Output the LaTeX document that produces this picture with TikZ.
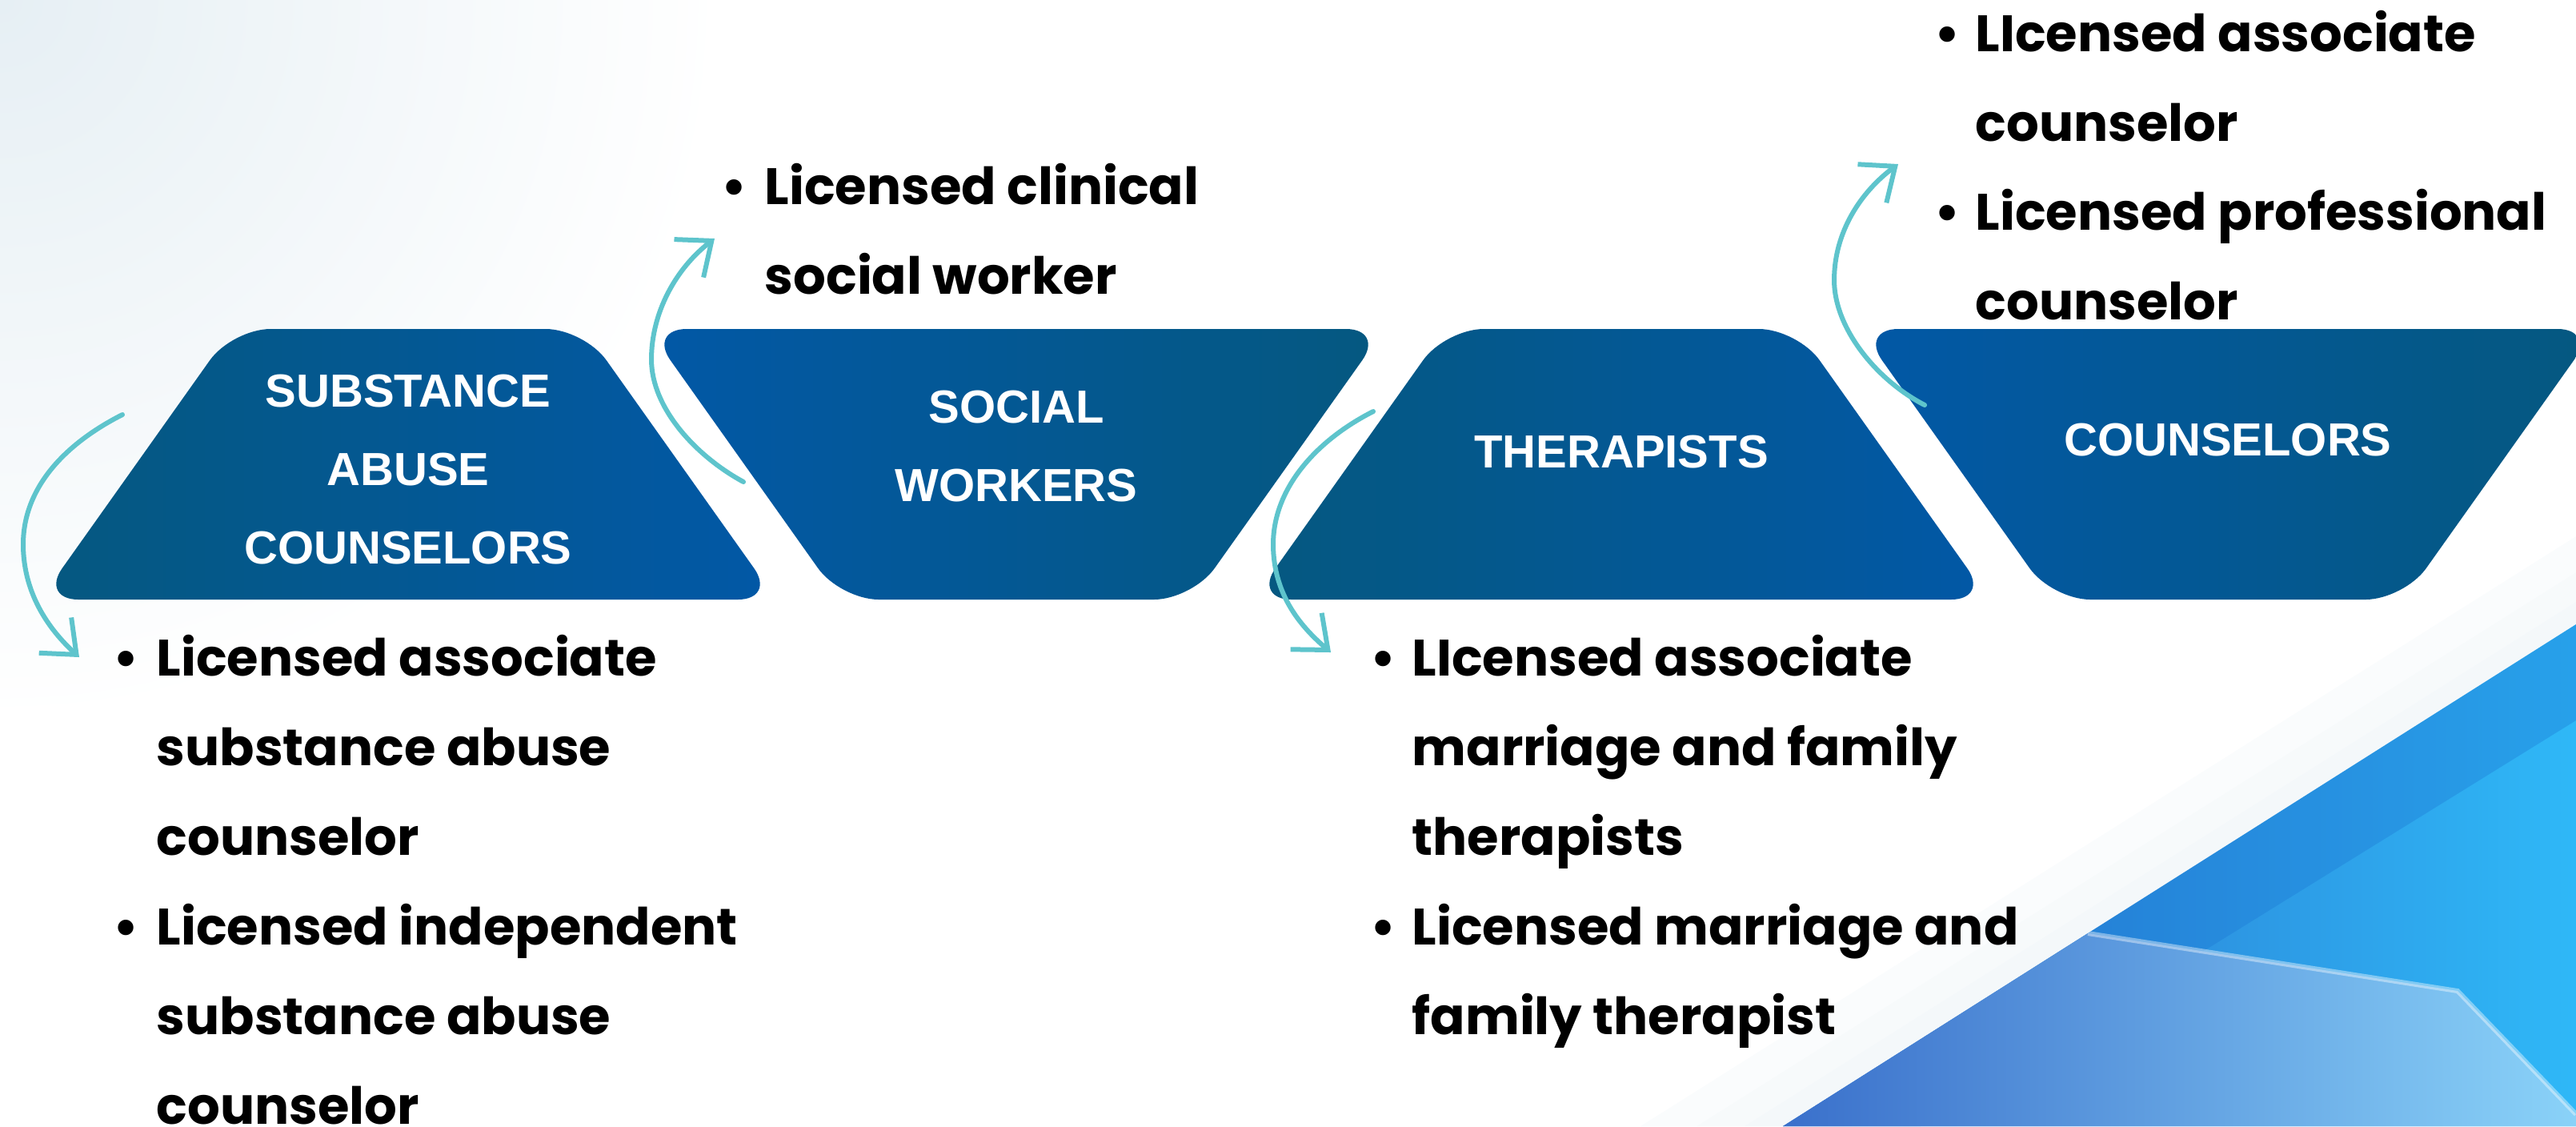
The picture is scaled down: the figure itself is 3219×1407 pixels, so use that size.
\documentclass[tikz,border=0pt]{standalone}
\usepackage{fontspec}
\newfontfamily\pop{Poppins}
\newfontfamily\arl{Liberation Sans}
\usetikzlibrary{arrows.meta}
\definecolor{tealdk}{HTML}{055880}
\definecolor{bluebx}{HTML}{0258A6}
\definecolor{arrowc}{HTML}{5EC4CC}
\definecolor{hazec}{HTML}{E6EFF4}
\definecolor{cornA}{HTML}{2A6CC9}
\definecolor{cornB}{HTML}{2FB8F7}
\definecolor{cornL}{HTML}{3A70CB}
\definecolor{cornR}{HTML}{8AD2F8}
\definecolor{cornD}{HTML}{1A76D3}
\newcommand\mylines[1]{\vtop{\halign{##\hfil\cr#1\crcr}}}
\begin{document}
\begin{tikzpicture}[x=0.25pt,y=-0.25pt,
  shapetxt/.style={text=white, font=\arl\bfseries\fontsize{14.5}{24.5}\selectfont, align=center, inner sep=0},
  bultxt/.style={font=\pop\bfseries\fontsize{16}{28}\selectfont, anchor=base west, inner sep=0},
  bdot/.style={font=\pop\bfseries\fontsize{16}{28}\selectfont, anchor=base, inner sep=0},
  curv/.style={draw=arrowc, line width=1.5pt, line cap=round, line join=round,
    -{Straight Barb[length=9pt,width=15pt,line width=1.5pt]}},
  upshape/.style={rounded corners=12pt, left color=tealdk, right color=bluebx},
  dnshape/.style={rounded corners=12pt, left color=bluebx, right color=tealdk},
  hazeband/.style={fill=hazec, opacity=0.18}]
\useasboundingbox (0,0) rectangle (3219,1407);
\begin{scope}
\clip (0,0) rectangle (3219,1407);
% background haze
\shade[inner color=hazec, outer color=white] (0,0) circle (900);
% soft haze along the blue edge
\fill[hazeband] (2180,1407) -- (3219,752) -- (3219,780) -- (2228,1407) -- cycle;
\fill[hazeband] (2120,1407) -- (3219,715) -- (3219,780) -- (2228,1407) -- cycle;
\fill[hazeband] (2050,1407) -- (3219,670) -- (3219,780) -- (2228,1407) -- cycle;
% blue corner
\begin{scope}
\clip (2228,1407) -- (3219,780) -- (3219,1407) -- cycle;
\shade[left color=cornA, right color=cornB] (2228,780) rectangle (3219,1407);
\fill[cornD, opacity=0.35] (2228,1407) -- (3219,780) -- (3219,900) -- (2400,1407) -- cycle;
\shade[left color=cornL, right color=cornR] (2609,1166) -- (3071,1238) -- (3219,1392) -- (3219,1407) -- (2228,1407) -- cycle;
\draw[white, opacity=0.4, line width=1.5pt] (2609,1166) -- (3071,1238) -- (3219,1392);
\end{scope}
\end{scope}
% shapes
\shade[upshape] (50,749) -- (970,749) -- (730,411) -- (290,411) -- cycle;
\shade[dnshape] (810,411) -- (1730,411) -- (1490,749) -- (1050,749) -- cycle;
\shade[upshape] (1566,749) -- (2486,749) -- (2246,411) -- (1806,411) -- cycle;
\shade[dnshape] (2324,411) -- (3244,411) -- (3004,749) -- (2564,749) -- cycle;
\node[shapetxt] (sa) at (510,587) {SUBSTANCE\\ABUSE\\COUNSELORS};
\node[shapetxt] (sw) at (1270,558) {SOCIAL\\WORKERS};
\node[shapetxt] (th) at (2026,565) {THERAPISTS};
\node[shapetxt] (co) at (2784,550) {COUNSELORS};
% bullet lists
\node[bdot] (d1) at (158,844) {•};
\node[bultxt] (l1) at (195,844) {\mylines{Licensed associate\cr substance abuse\cr counselor}};
\node[bdot] (d2) at (158,1180) {•};
\node[bultxt] (l2) at (195,1180) {\mylines{Licensed independent\cr substance abuse\cr counselor}};
\node[bdot] (d3) at (918,255) {•};
\node[bultxt] (l3) at (955,255) {\mylines{Licensed clinical\cr social worker}};
\node[bdot] (d4) at (1729,844) {•};
\node[bultxt] (l4) at (1764,844) {\mylines{LIcensed associate\cr marriage and family\cr therapists}};
\node[bdot] (d5) at (1729,1180) {•};
\node[bultxt] (l5) at (1764,1180) {\mylines{Licensed marriage and\cr family therapist}};
\node[bdot] (d6) at (2433,64) {•};
\node[bultxt] (l6) at (2468,64) {\mylines{LIcensed associate\cr counselor}};
\node[bdot] (d7) at (2433,287) {•};
\node[bultxt] (l7) at (2468,287) {\mylines{Licensed professional\cr counselor}};
% arrows
\coordinate (a1s) at (153,518); \coordinate (a1e) at (99,821);
\coordinate (a2s) at (929,602); \coordinate (a2e) at (893,298);
\coordinate (a3s) at (1716,514); \coordinate (a3e) at (1663,815);
\coordinate (a4s) at (2405,506); \coordinate (a4e) at (2372,205);
\draw[curv] (a1s) .. controls (80,555) and (29,610) .. (29,680) .. controls (29,745) and (65,790) .. (a1e);
\draw[curv] (a2s) .. controls (870,570) and (814,510) .. (814,449) .. controls (814,390) and (845,335) .. (a2e);
\draw[curv] (a3s) .. controls (1645,550) and (1591,610) .. (1591,680) .. controls (1591,745) and (1628,785) .. (a3e);
\draw[curv] (a4s) .. controls (2345,475) and (2292,410) .. (2292,350) .. controls (2292,290) and (2325,240) .. (a4e);
\end{tikzpicture}
\end{document}
